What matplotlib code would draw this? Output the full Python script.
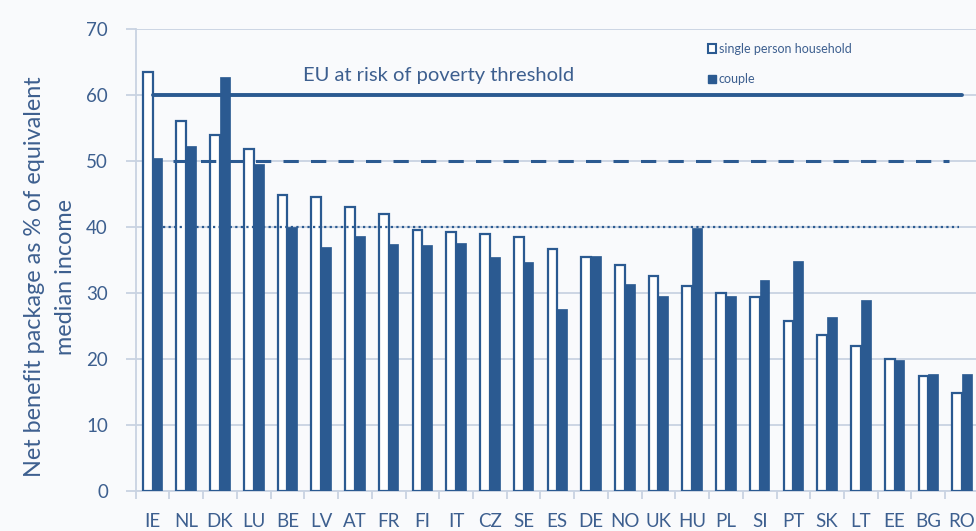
import numpy as np
import matplotlib.pyplot as plt
from matplotlib.patches import Patch

plt.rcParams['font.family'] = ['Lato', 'DejaVu Sans']

countries = ["IE","NL","DK","LU","BE","LV","AT","FR","FI","IT","CZ","SE","ES",
             "DE","NO","UK","HU","PL","SI","PT","SK","LT","EE","BG","RO"]
single = [63.5,56.0,54.0,51.8,44.8,44.6,43.0,42.0,39.5,39.3,39.0,38.5,36.7,
          35.4,34.3,32.6,31.0,30.0,29.4,25.8,23.6,21.9,20.0,17.5,14.8]
couple = [50.5,52.3,62.7,49.6,40.0,37.0,38.6,37.4,37.3,37.6,35.4,34.7,27.6,
          35.6,31.3,29.6,39.8,29.5,32.0,34.8,26.3,29.0,19.8,17.8,17.8]
thresholds = [60, 50, 40]

blue = "#2b5a91"
txt = "#3d5f8f"
grid = "#c9d3e2"
bg = "#f9fafc"

fig = plt.figure(figsize=(9.76, 5.31), dpi=100, facecolor=bg)
ax = fig.add_axes([0.139, 0.0753, 0.864, 0.870])
ax.set_facecolor(bg)

x = np.arange(len(countries))
w = 0.29
ax.bar(x - w/2, single, w, color="white", edgecolor=blue, linewidth=1.6, zorder=3)
ax.bar(x + w/2, couple, w, color=blue, edgecolor=blue, linewidth=0.5, zorder=3)

ax.plot([0, 24], [thresholds[0]]*2, color=blue, lw=2.8, zorder=4, solid_capstyle="round")
ax.plot([0.6, 23.6], [thresholds[1]]*2, color=blue, lw=2.2, ls=(0, (5, 4)), zorder=4)
ax.plot([0.3, 23.9], [thresholds[2]]*2, color=blue, lw=1.6, ls=(0, (1, 1.5)), zorder=4)

ax.text(4.45, 61.6, "EU at risk of poverty threshold", color=txt, fontsize=14.5,
        va="bottom", ha="left", zorder=5)

ax.set_ylim(0, 70)
ax.set_xlim(-0.5, 24.5)
ax.set_yticks(range(0, 71, 10))
ax.yaxis.grid(True, color=grid, lw=1.3, zorder=0)
ax.set_xticks(x)
ax.set_xticklabels(countries)
ax.set_xticks(np.arange(-0.5, 24.6, 1), minor=True)
ax.tick_params(axis="x", which="major", length=0, pad=16, labelsize=13.5, labelcolor=txt)
ax.tick_params(axis="x", which="minor", length=6, width=1.3, color=grid)
ax.tick_params(axis="y", length=7, width=1.3, color=grid, labelsize=13.5, labelcolor=txt, pad=13)
for s in ["top", "right"]:
    ax.spines[s].set_visible(False)
for s in ["left", "bottom"]:
    ax.spines[s].set_color(grid)
    ax.spines[s].set_linewidth(1.3)

fig.text(50/976, 1 - 277/531, "Net benefit package as % of equivalent\nmedian income",
         color=txt, fontsize=16.8, rotation=90, ha="center", va="center",
         multialignment="center", linespacing=1.55)

handles = [Patch(facecolor="white", edgecolor=blue, linewidth=1.5, label="single person household"),
           Patch(facecolor=blue, edgecolor=blue, label="couple")]
ax.legend(handles=handles, loc="upper left", bbox_to_anchor=(0.665, 0.995), frameon=False,
          fontsize=9, labelcolor=txt, handlelength=0.7, handleheight=0.7,
          handletextpad=0.2, labelspacing=1.5)

fig.savefig("out.png", dpi=100, facecolor=bg)
